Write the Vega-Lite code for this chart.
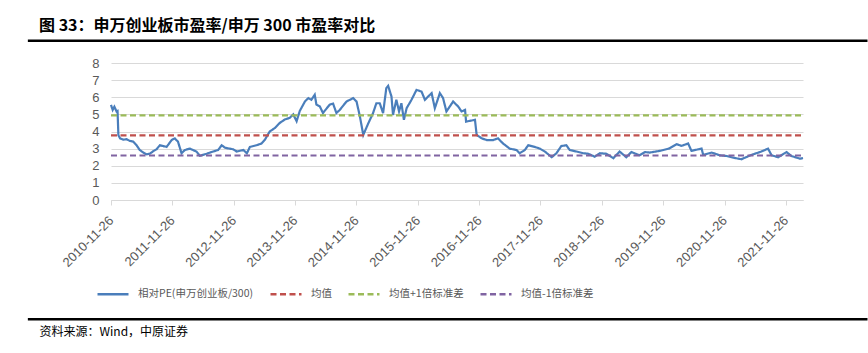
{
  "$schema": "https://vega.github.io/schema/vega-lite/v6.json",
  "width": 692,
  "height": 137,
  "autosize": {"type": "none"},
  "padding": {"left": 111, "top": 63, "right": 65, "bottom": 153},
  "config": {"view": {"stroke": null}, "font": "Noto Sans CJK SC"},
  "title": {
    "text": "图 33：申万创业板市盈率/申万 300 市盈率对比",
    "anchor": "start",
    "frame": "group",
    "dx": -72,
    "dy": 15,
    "offset": 20,
    "font": "Noto Sans CJK SC",
    "fontSize": 16,
    "fontWeight": "bold",
    "color": "#000000"
  },
  "resolve": {"axis": {"x": "independent", "y": "independent"}},
  "layer": [
    {
      "data": {"values": [
        {"date": "2010-11-26", "series": "相对PE(申万创业板/300)", "value": 5.55},
        {"date": "2010-12-06", "series": "相对PE(申万创业板/300)", "value": 5.26},
        {"date": "2010-12-16", "series": "相对PE(申万创业板/300)", "value": 5.45},
        {"date": "2010-12-29", "series": "相对PE(申万创业板/300)", "value": 5.17},
        {"date": "2011-01-04", "series": "相对PE(申万创业板/300)", "value": 5.2},
        {"date": "2011-01-09", "series": "相对PE(申万创业板/300)", "value": 3.78},
        {"date": "2011-01-19", "series": "相对PE(申万创业板/300)", "value": 3.6},
        {"date": "2011-02-08", "series": "相对PE(申万创业板/300)", "value": 3.52},
        {"date": "2011-02-27", "series": "相对PE(申万创业板/300)", "value": 3.55},
        {"date": "2011-03-18", "series": "相对PE(申万创业板/300)", "value": 3.45},
        {"date": "2011-04-07", "series": "相对PE(申万创业板/300)", "value": 3.41},
        {"date": "2011-04-27", "series": "相对PE(申万创业板/300)", "value": 3.2},
        {"date": "2011-05-16", "series": "相对PE(申万创业板/300)", "value": 2.92},
        {"date": "2011-06-05", "series": "相对PE(申万创业板/300)", "value": 2.78},
        {"date": "2011-06-25", "series": "相对PE(申万创业板/300)", "value": 2.67},
        {"date": "2011-07-15", "series": "相对PE(申万创业板/300)", "value": 2.7},
        {"date": "2011-08-04", "series": "相对PE(申万创业板/300)", "value": 2.85},
        {"date": "2011-08-24", "series": "相对PE(申万创业板/300)", "value": 2.96},
        {"date": "2011-09-13", "series": "相对PE(申万创业板/300)", "value": 3.2},
        {"date": "2011-10-03", "series": "相对PE(申万创业板/300)", "value": 3.15},
        {"date": "2011-10-23", "series": "相对PE(申万创业板/300)", "value": 3.1},
        {"date": "2011-11-22", "series": "相对PE(申万创业板/300)", "value": 3.5},
        {"date": "2011-12-11", "series": "相对PE(申万创业板/300)", "value": 3.6},
        {"date": "2011-12-30", "series": "相对PE(申万创业板/300)", "value": 3.4},
        {"date": "2012-01-20", "series": "相对PE(申万创业板/300)", "value": 2.73},
        {"date": "2012-02-09", "series": "相对PE(申万创业板/300)", "value": 2.92},
        {"date": "2012-03-09", "series": "相对PE(申万创业板/300)", "value": 3.0},
        {"date": "2012-04-18", "series": "相对PE(申万创业板/300)", "value": 2.83},
        {"date": "2012-05-08", "series": "相对PE(申万创业板/300)", "value": 2.58},
        {"date": "2012-06-17", "series": "相对PE(申万创业板/300)", "value": 2.7},
        {"date": "2012-07-26", "series": "相对PE(申万创业板/300)", "value": 2.83},
        {"date": "2012-08-25", "series": "相对PE(申万创业板/300)", "value": 2.92},
        {"date": "2012-09-15", "series": "相对PE(申万创业板/300)", "value": 3.2},
        {"date": "2012-10-05", "series": "相对PE(申万创业板/300)", "value": 3.05},
        {"date": "2012-11-23", "series": "相对PE(申万创业板/300)", "value": 2.96},
        {"date": "2012-12-13", "series": "相对PE(申万创业板/300)", "value": 2.83},
        {"date": "2013-01-22", "series": "相对PE(申万创业板/300)", "value": 2.92},
        {"date": "2013-02-12", "series": "相对PE(申万创业板/300)", "value": 2.73},
        {"date": "2013-03-02", "series": "相对PE(申万创业板/300)", "value": 3.1},
        {"date": "2013-04-11", "series": "相对PE(申万创业板/300)", "value": 3.2},
        {"date": "2013-05-10", "series": "相对PE(申万创业板/300)", "value": 3.3},
        {"date": "2013-05-29", "series": "相对PE(申万创业板/300)", "value": 3.5},
        {"date": "2013-06-28", "series": "相对PE(申万创业板/300)", "value": 4.0},
        {"date": "2013-07-28", "series": "相对PE(申万创业板/300)", "value": 4.2},
        {"date": "2013-08-27", "series": "相对PE(申万创业板/300)", "value": 4.5},
        {"date": "2013-09-26", "series": "相对PE(申万创业板/300)", "value": 4.7},
        {"date": "2013-10-26", "series": "相对PE(申万创业板/300)", "value": 4.8},
        {"date": "2013-11-15", "series": "相对PE(申万创业板/300)", "value": 5.0},
        {"date": "2013-12-05", "series": "相对PE(申万创业板/300)", "value": 4.6},
        {"date": "2013-12-24", "series": "相对PE(申万创业板/300)", "value": 5.2},
        {"date": "2014-01-24", "series": "相对PE(申万创业板/300)", "value": 5.76},
        {"date": "2014-02-13", "series": "相对PE(申万创业板/300)", "value": 5.95},
        {"date": "2014-03-03", "series": "相对PE(申万创业板/300)", "value": 5.85},
        {"date": "2014-03-23", "series": "相对PE(申万创业板/300)", "value": 6.15},
        {"date": "2014-04-02", "series": "相对PE(申万创业板/300)", "value": 5.57},
        {"date": "2014-04-22", "series": "相对PE(申万创业板/300)", "value": 5.47},
        {"date": "2014-05-11", "series": "相对PE(申万创业板/300)", "value": 5.08},
        {"date": "2014-06-20", "series": "相对PE(申万创业板/300)", "value": 5.57},
        {"date": "2014-07-10", "series": "相对PE(申万创业板/300)", "value": 5.63},
        {"date": "2014-07-30", "series": "相对PE(申万创业板/300)", "value": 5.08},
        {"date": "2014-08-19", "series": "相对PE(申万创业板/300)", "value": 5.26},
        {"date": "2014-09-28", "series": "相对PE(申万创业板/300)", "value": 5.75},
        {"date": "2014-11-07", "series": "相对PE(申万创业板/300)", "value": 5.95},
        {"date": "2014-11-27", "series": "相对PE(申万创业板/300)", "value": 5.75},
        {"date": "2014-12-17", "series": "相对PE(申万创业板/300)", "value": 4.87},
        {"date": "2015-01-06", "series": "相对PE(申万创业板/300)", "value": 3.8},
        {"date": "2015-02-05", "series": "相对PE(申万创业板/300)", "value": 4.48},
        {"date": "2015-03-05", "series": "相对PE(申万创业板/300)", "value": 5.07},
        {"date": "2015-03-25", "series": "相对PE(申万创业板/300)", "value": 5.65},
        {"date": "2015-04-14", "series": "相对PE(申万创业板/300)", "value": 5.65},
        {"date": "2015-05-04", "series": "相对PE(申万创业板/300)", "value": 5.07},
        {"date": "2015-05-23", "series": "相对PE(申万创业板/300)", "value": 6.53},
        {"date": "2015-06-03", "series": "相对PE(申万创业板/300)", "value": 6.67},
        {"date": "2015-06-23", "series": "相对PE(申万创业板/300)", "value": 6.04},
        {"date": "2015-07-02", "series": "相对PE(申万创业板/300)", "value": 4.97},
        {"date": "2015-07-22", "series": "相对PE(申万创业板/300)", "value": 5.85},
        {"date": "2015-08-07", "series": "相对PE(申万创业板/300)", "value": 5.17},
        {"date": "2015-08-21", "series": "相对PE(申万创业板/300)", "value": 5.65},
        {"date": "2015-09-05", "series": "相对PE(申万创业板/300)", "value": 4.68},
        {"date": "2015-09-21", "series": "相对PE(申万创业板/300)", "value": 5.36},
        {"date": "2015-10-20", "series": "相对PE(申万创业板/300)", "value": 5.85},
        {"date": "2015-11-19", "series": "相对PE(申万创业板/300)", "value": 6.43},
        {"date": "2015-12-19", "series": "相对PE(申万创业板/300)", "value": 6.33},
        {"date": "2016-01-08", "series": "相对PE(申万创业板/300)", "value": 5.85},
        {"date": "2016-01-27", "series": "相对PE(申万创业板/300)", "value": 6.04},
        {"date": "2016-02-17", "series": "相对PE(申万创业板/300)", "value": 6.24},
        {"date": "2016-03-07", "series": "相对PE(申万创业板/300)", "value": 5.36},
        {"date": "2016-04-06", "series": "相对PE(申万创业板/300)", "value": 6.24},
        {"date": "2016-04-25", "series": "相对PE(申万创业板/300)", "value": 5.95},
        {"date": "2016-05-15", "series": "相对PE(申万创业板/300)", "value": 5.17},
        {"date": "2016-06-24", "series": "相对PE(申万创业板/300)", "value": 5.75},
        {"date": "2016-07-24", "series": "相对PE(申万创业板/300)", "value": 5.46},
        {"date": "2016-08-13", "series": "相对PE(申万创业板/300)", "value": 5.17},
        {"date": "2016-09-03", "series": "相对PE(申万创业板/300)", "value": 5.26},
        {"date": "2016-09-09", "series": "相对PE(申万创业板/300)", "value": 4.58},
        {"date": "2016-11-01", "series": "相对PE(申万创业板/300)", "value": 4.68},
        {"date": "2016-11-11", "series": "相对PE(申万创业板/300)", "value": 3.8},
        {"date": "2016-12-11", "series": "相对PE(申万创业板/300)", "value": 3.6},
        {"date": "2017-01-10", "series": "相对PE(申万创业板/300)", "value": 3.5},
        {"date": "2017-02-18", "series": "相对PE(申万创业板/300)", "value": 3.5},
        {"date": "2017-03-18", "series": "相对PE(申万创业板/300)", "value": 3.6},
        {"date": "2017-04-17", "series": "相对PE(申万创业板/300)", "value": 3.3},
        {"date": "2017-05-27", "series": "相对PE(申万创业板/300)", "value": 3.0},
        {"date": "2017-07-06", "series": "相对PE(申万创业板/300)", "value": 2.92},
        {"date": "2017-07-25", "series": "相对PE(申万创业板/300)", "value": 2.73},
        {"date": "2017-08-25", "series": "相对PE(申万创业板/300)", "value": 2.92},
        {"date": "2017-09-14", "series": "相对PE(申万创业板/300)", "value": 3.2},
        {"date": "2017-10-23", "series": "相对PE(申万创业板/300)", "value": 3.1},
        {"date": "2017-11-22", "series": "相对PE(申万创业板/300)", "value": 3.0},
        {"date": "2017-12-22", "series": "相对PE(申万创业板/300)", "value": 2.83},
        {"date": "2018-02-01", "series": "相对PE(申万创业板/300)", "value": 2.5},
        {"date": "2018-03-01", "series": "相对PE(申万创业板/300)", "value": 2.73},
        {"date": "2018-03-30", "series": "相对PE(申万创业板/300)", "value": 3.15},
        {"date": "2018-04-29", "series": "相对PE(申万创业板/300)", "value": 3.2},
        {"date": "2018-05-19", "series": "相对PE(申万创业板/300)", "value": 2.92},
        {"date": "2018-06-28", "series": "相对PE(申万创业板/300)", "value": 2.83},
        {"date": "2018-08-07", "series": "相对PE(申万创业板/300)", "value": 2.73},
        {"date": "2018-09-06", "series": "相对PE(申万创业板/300)", "value": 2.7},
        {"date": "2018-10-15", "series": "相对PE(申万创业板/300)", "value": 2.53},
        {"date": "2018-11-15", "series": "相对PE(申万创业板/300)", "value": 2.73},
        {"date": "2018-12-24", "series": "相对PE(申万创业板/300)", "value": 2.7},
        {"date": "2019-02-03", "series": "相对PE(申万创业板/300)", "value": 2.44},
        {"date": "2019-03-12", "series": "相对PE(申万创业板/300)", "value": 2.83},
        {"date": "2019-04-21", "series": "相对PE(申万创业板/300)", "value": 2.5},
        {"date": "2019-05-21", "series": "相对PE(申万创业板/300)", "value": 2.8},
        {"date": "2019-07-09", "series": "相对PE(申万创业板/300)", "value": 2.61},
        {"date": "2019-08-10", "series": "相对PE(申万创业板/300)", "value": 2.8},
        {"date": "2019-09-08", "series": "相对PE(申万创业板/300)", "value": 2.77},
        {"date": "2019-11-07", "series": "相对PE(申万创业板/300)", "value": 2.87},
        {"date": "2019-12-30", "series": "相对PE(申万创业板/300)", "value": 3.0},
        {"date": "2020-02-15", "series": "相对PE(申万创业板/300)", "value": 3.26},
        {"date": "2020-03-14", "series": "相对PE(申万创业板/300)", "value": 3.16},
        {"date": "2020-04-23", "series": "相对PE(申万创业板/300)", "value": 3.3},
        {"date": "2020-05-13", "series": "相对PE(申万创业板/300)", "value": 2.87},
        {"date": "2020-06-22", "series": "相对PE(申万创业板/300)", "value": 2.96},
        {"date": "2020-07-12", "series": "相对PE(申万创业板/300)", "value": 3.0},
        {"date": "2020-07-22", "series": "相对PE(申万创业板/300)", "value": 2.63},
        {"date": "2020-09-10", "series": "相对PE(申万创业板/300)", "value": 2.77},
        {"date": "2020-10-29", "series": "相对PE(申万创业板/300)", "value": 2.61},
        {"date": "2020-12-08", "series": "相对PE(申万创业板/300)", "value": 2.57},
        {"date": "2021-01-17", "series": "相对PE(申万创业板/300)", "value": 2.47},
        {"date": "2021-03-06", "series": "相对PE(申万创业板/300)", "value": 2.38},
        {"date": "2021-05-04", "series": "相对PE(申万创业板/300)", "value": 2.63},
        {"date": "2021-07-03", "series": "相对PE(申万创业板/300)", "value": 2.83},
        {"date": "2021-08-12", "series": "相对PE(申万创业板/300)", "value": 3.0},
        {"date": "2021-09-02", "series": "相对PE(申万创业板/300)", "value": 2.61},
        {"date": "2021-10-11", "series": "相对PE(申万创业板/300)", "value": 2.5},
        {"date": "2021-11-30", "series": "相对PE(申万创业板/300)", "value": 2.8},
        {"date": "2021-12-29", "series": "相对PE(申万创业板/300)", "value": 2.57},
        {"date": "2022-02-19", "series": "相对PE(申万创业板/300)", "value": 2.41},
        {"date": "2022-03-08", "series": "相对PE(申万创业板/300)", "value": 2.45},
        {"date": "2010-11-26", "series": "均值", "value": 3.77},
        {"date": "2022-03-08", "series": "均值", "value": 3.77},
        {"date": "2010-11-26", "series": "均值+1倍标准差", "value": 4.94},
        {"date": "2022-03-08", "series": "均值+1倍标准差", "value": 4.94},
        {"date": "2010-11-26", "series": "均值-1倍标准差", "value": 2.6},
        {"date": "2022-03-08", "series": "均值-1倍标准差", "value": 2.6}
      ]},
      "mark": {"type": "line", "strokeWidth": 2.2},
      "encoding": {
        "x": {
          "field": "date",
          "type": "temporal",
          "scale": {"type": "utc", "domain": [{"year": 2010, "month": 11, "date": 26, "utc": true}, {"year": 2022, "month": 3, "date": 8, "utc": true}]},
          "axis": {
            "values": [
              {"year": 2010, "month": 11, "date": 26, "utc": true},
              {"year": 2011, "month": 11, "date": 26, "utc": true},
              {"year": 2012, "month": 11, "date": 26, "utc": true},
              {"year": 2013, "month": 11, "date": 26, "utc": true},
              {"year": 2014, "month": 11, "date": 26, "utc": true},
              {"year": 2015, "month": 11, "date": 26, "utc": true},
              {"year": 2016, "month": 11, "date": 26, "utc": true},
              {"year": 2017, "month": 11, "date": 26, "utc": true},
              {"year": 2018, "month": 11, "date": 26, "utc": true},
              {"year": 2019, "month": 11, "date": 26, "utc": true},
              {"year": 2020, "month": 11, "date": 26, "utc": true},
              {"year": 2021, "month": 11, "date": 26, "utc": true}
            ],
            "format": "%Y-%m-%d",
            "labelAngle": -45,
            "labelAlign": "right",
            "labelBaseline": "middle",
            "labelOverlap": false,
            "labelFlush": false,
            "grid": false,
            "domainColor": "#d9d9d9",
            "tickColor": "#d9d9d9",
            "tickSize": 5,
            "labelPadding": 13,
            "labelColor": "#595959",
            "labelFont": "Liberation Sans",
            "labelFontSize": 13,
            "title": "资料来源：Wind，中原证券",
            "titleX": -72,
            "titleY": 131,
            "titleAlign": "left",
            "titleAnchor": "start",
            "titleBaseline": "middle",
            "titleFont": "Noto Sans CJK SC",
            "titleFontSize": 12,
            "titleFontWeight": "normal",
            "titleColor": "#000000"
          }
        },
        "y": {
          "field": "value",
          "type": "quantitative",
          "scale": {"domain": [0, 8]},
          "axis": {
            "values": [0, 1, 2, 3, 4, 5, 6, 7, 8],
            "title": null,
            "domain": false,
            "ticks": false,
            "labelOverlap": false,
            "gridColor": "#d9d9d9",
            "gridWidth": 1,
            "labelColor": "#595959",
            "labelFont": "Liberation Sans",
            "labelFontSize": 13,
            "labelPadding": 12
          }
        },
        "color": {
          "field": "series",
          "type": "nominal",
          "scale": {
            "domain": ["相对PE(申万创业板/300)", "均值", "均值+1倍标准差", "均值-1倍标准差"],
            "range": ["#4A7EBB", "#C0504D", "#9BBB59", "#8064A2"]
          },
          "legend": {
            "orient": "none",
            "legendX": -15,
            "legendY": 214,
            "direction": "horizontal",
            "columns": 4,
            "title": null,
            "symbolType": "stroke",
            "symbolSize": 961,
            "symbolStrokeWidth": 2.5,
            "labelOffset": 8,
            "columnPadding": 11,
            "labelFont": "Noto Sans CJK SC",
            "labelFontSize": 10.5,
            "labelColor": "#595959",
            "padding": 0,
            "encode": {"symbols": {"update": {"strokeDash": {"signal": "datum.value === '相对PE(申万创业板/300)' ? [1, 0] : [3.5, 2]"}}}}
          }
        },
        "strokeDash": {
          "field": "series",
          "type": "nominal",
          "scale": {
            "domain": ["相对PE(申万创业板/300)", "均值", "均值+1倍标准差", "均值-1倍标准差"],
            "range": [[1, 0], [6, 3.5], [6, 3.5], [6, 3.5]]
          },
          "legend": {
            "orient": "none",
            "legendX": -15,
            "legendY": 214,
            "direction": "horizontal",
            "columns": 4,
            "title": null,
            "symbolType": "stroke",
            "symbolSize": 961,
            "symbolStrokeWidth": 2.5,
            "labelOffset": 8,
            "columnPadding": 11,
            "labelFont": "Noto Sans CJK SC",
            "labelFontSize": 10.5,
            "labelColor": "#595959",
            "padding": 0,
            "encode": {"symbols": {"update": {"strokeDash": {"signal": "datum.value === '相对PE(申万创业板/300)' ? [1, 0] : [3.5, 2]"}}}}
          }
        }
      }
    },
    {
      "data": {"values": [{"rule": "title underline"}]},
      "mark": {"type": "rule", "color": "#000000", "strokeWidth": 2.5},
      "encoding": {
        "x": {"datum": {"year": 2009, "month": 7, "date": 19, "utc": true}, "type": "temporal", "axis": null},
        "x2": {"datum": {"year": 2023, "month": 3, "date": 27, "utc": true}},
        "y": {"datum": 9.3, "type": "quantitative", "axis": null, "scale": {"domain": [0, 8]}}
      }
    },
    {
      "data": {"values": [{"rule": "source overline"}]},
      "mark": {"type": "rule", "color": "#000000", "strokeWidth": 2.5},
      "encoding": {
        "x": {"datum": {"year": 2009, "month": 7, "date": 19, "utc": true}, "type": "temporal", "axis": null},
        "x2": {"datum": {"year": 2023, "month": 3, "date": 27, "utc": true}},
        "y": {"datum": -6.97, "type": "quantitative", "axis": null, "scale": {"domain": [0, 8]}}
      }
    }
  ]
}
